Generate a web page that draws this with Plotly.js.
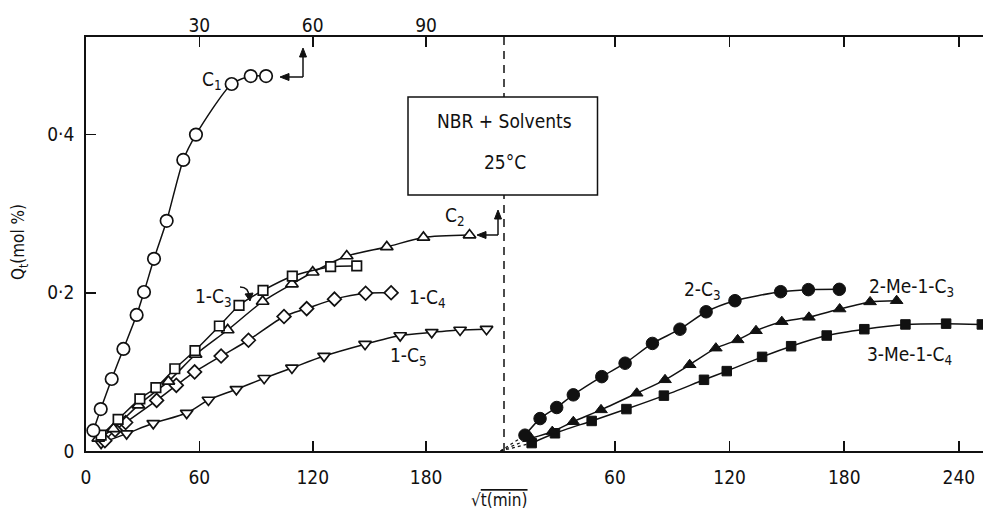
<!DOCTYPE html>
<html><head><meta charset="utf-8">
<script src="https://cdn.plot.ly/plotly-3.0.1.min.js"></script>
<style>html,body{margin:0;padding:0;background:#fff}</style>
</head><body>
<div id="chart" style="width:983px;height:516px"></div>
<script>
// ---- data (x = sqrt(t), y = Qt in mol %) ----
// C1 is read on the top axis (its scale is half of the bottom one)
const c1X = [1.95, 3.9, 6.8, 9.9, 13.4, 15.35, 18, 21.35, 25.75, 29.1, 38.55, 43.6, 47.65];
const c1Y = [0.026, 0.053, 0.091, 0.129, 0.172, 0.201, 0.243, 0.291, 0.368, 0.400, 0.464, 0.474, 0.474];

const c2X = [6.5, 14.5, 27.7, 43.6, 58, 75, 93.5, 109, 120, 138, 159.2, 178.6, 203];
const c2Y = [0.016, 0.028, 0.058, 0.088, 0.122, 0.153, 0.189, 0.211, 0.226, 0.2465, 0.258, 0.270, 0.273];

const c3X = [8, 17, 28.5, 37, 47, 57.7, 70.6, 81, 93.7, 109.2, 129.5, 143.3];
const c3Y = [0.02, 0.04, 0.066, 0.08, 0.104, 0.127, 0.158, 0.184, 0.203, 0.221, 0.233, 0.234];

const c4X = [10, 15.4, 21, 37.4, 47.8, 57.5, 71.5, 86, 104.8, 116.8, 131.5, 148, 161.5];
const c4Y = [0.013, 0.0265, 0.036, 0.064, 0.083, 0.1, 0.12, 0.14, 0.17, 0.18, 0.192, 0.1995, 0.2];

const c5X = [8, 21.5, 35.6, 53.3, 64.8, 79.6, 94.3, 109, 126, 147.7, 166.3, 183, 198, 212];
const c5Y = [0.01, 0.022, 0.035, 0.048, 0.0645, 0.078, 0.092, 0.105, 0.12, 0.135, 0.146, 0.15, 0.153, 0.154];

const iC3X = [12.9, 20.8, 29.5, 38.2, 53.1, 65.3, 79.6, 94, 107.7, 122.8, 146.7, 161.2, 177.4];
const iC3Y = [0.02, 0.041, 0.055, 0.071, 0.094, 0.111, 0.136, 0.154, 0.176, 0.19, 0.2014, 0.204, 0.2044];

const meC3X = [16, 27.2, 38.2, 52.7, 71.4, 86.2, 99.1, 112.8, 124.2, 133.8, 147.3, 161.5, 177.6, 193.5, 207.4];
const meC3Y = [0.016, 0.0245, 0.037, 0.052, 0.073, 0.09, 0.109, 0.13, 0.1405, 0.152, 0.1635, 0.169, 0.1795, 0.1885, 0.19];

const meC4X = [16.4, 28.6, 47.8, 66, 85.6, 106.6, 118.5, 137, 152.2, 170.8, 190.5, 212, 233.3, 252];
const meC4Y = [0.01, 0.0224, 0.038, 0.053, 0.07, 0.09, 0.101, 0.119, 0.1325, 0.146, 0.154, 0.160, 0.161, 0.160];

const leftTicks = [0, 60, 120, 180];
const rightTicks = [60, 120, 180, 240];
const topTicks = [30, 60, 90];
const yTicks = [0, 0.2, 0.4];
const yTickText = ['0', '0·2', '0·4'];

// ---- styling ----
const FONT = '"Liberation Sans Narrow", "DejaVu Sans Condensed", "Liberation Sans", sans-serif';
const INK = '#111';
const lineStyle = {color: INK, width: 1.5, shape: 'spline', smoothing: 0.7};

function openSeries(x, y, symbol, size, xa) {
  return {x, y, xaxis: xa, yaxis: 'y', type: 'scatter', mode: 'lines+markers',
    line: lineStyle, cliponaxis: true,
    marker: {symbol, size, color: 'white', line: {color: INK, width: 1.7}}};
}
function filledSeries(x, y, symbol, size) {
  return {x, y, xaxis: 'x2', yaxis: 'y', type: 'scatter', mode: 'lines+markers',
    line: lineStyle, cliponaxis: true,
    marker: {symbol, size, color: INK, line: {color: INK, width: 1}}};
}
function originLink(x, y) {
  return {x: [0, x[0]], y: [0, y[0]], xaxis: 'x2', yaxis: 'y', type: 'scatter', mode: 'lines',
    line: {color: INK, width: 1.2, dash: '3px,3px'}};
}

const traces = [
  originLink(iC3X, iC3Y), originLink(meC3X, meC3Y), originLink(meC4X, meC4Y),
  openSeries(c5X, c5Y, 'triangle-down', 11, 'x'),
  openSeries(c4X, c4Y, 'diamond', 10.5, 'x'),
  openSeries(c2X, c2Y, 'triangle-up', 11, 'x'),
  openSeries(c3X, c3Y, 'square', 9.5, 'x'),
  openSeries(c1X, c1Y, 'circle', 12.5, 'x3'),
  filledSeries(meC4X, meC4Y, 'square', 9.5),
  filledSeries(meC3X, meC3Y, 'triangle-up', 11),
  filledSeries(iC3X, iC3Y, 'circle', 12.5)
];

// plot-area helpers (paper coords from plot pixel positions)
const L = 86, T = 37, W = 897, H = 414;
const px = v => (v - L) / W;
const py = v => (T + H - v) / H;

const axisCommon = {
  showline: true, linecolor: INK, linewidth: 1.8, showgrid: false, zeroline: false,
  ticks: 'inside', ticklen: 10, tickwidth: 1.6, tickcolor: INK,
  tickfont: {family: FONT, size: 19, color: INK}
};

function label(text, x, y, extra) {
  return Object.assign({text, x: px(x), y: py(y), xref: 'paper', yref: 'paper',
    xanchor: 'left', yanchor: 'middle', showarrow: false,
    font: {family: FONT, size: 19, color: INK}}, extra || {});
}
// connector lines + filled arrow heads, drawn as shapes
function seg(x0, y0, x1, y1) {
  return {type: 'line', xref: 'paper', yref: 'paper', x0: px(x0), y0: py(y0), x1: px(x1), y1: py(y1),
    line: {color: INK, width: 1.5}};
}
function head(x, y, dir) {
  // dir: 'left' | 'up' | 'down'
  let pts;
  if (dir === 'left') pts = [[x, y], [x + 9, y - 3.5], [x + 9, y + 3.5]];
  else if (dir === 'up') pts = [[x, y], [x - 3.5, y + 9], [x + 3.5, y + 9]];
  else pts = [[x, y], [x - 5, y - 7], [x + 3, y - 8]];
  const d = 'M' + pts.map(p => px(p[0]) + ',' + py(p[1])).join(' L') + ' Z';
  return {type: 'path', xref: 'paper', yref: 'paper', path: d, fillcolor: INK, line: {color: INK, width: 1}};
}

const layout = {
  width: 983, height: 516,
  margin: {l: L, r: 0, t: T, b: 516 - T - H},
  paper_bgcolor: 'white', plot_bgcolor: 'white',
  showlegend: false,
  font: {family: FONT, size: 19, color: INK},
  xaxis: Object.assign({}, axisCommon, {domain: [0, 0.4619], range: [0, 219.3],
    tickvals: leftTicks, anchor: 'y', ticklabelstandoff: 8}),
  xaxis2: Object.assign({}, axisCommon, {domain: [0.4619, 1], range: [0, 252.6],
    tickvals: rightTicks, anchor: 'y', mirror: 'ticks', ticklabelstandoff: 8}),
  xaxis3: Object.assign({}, axisCommon, {overlaying: 'x', side: 'top', anchor: 'y',
    range: [0, 109.65], tickvals: topTicks, ticklabelstandoff: -4}),
  yaxis: Object.assign({}, axisCommon, {range: [0, 0.5234], tickvals: yTicks,
    ticktext: yTickText, ticklabelstandoff: 6}),
  shapes: [
    {type: 'line', xref: 'paper', yref: 'paper', x0: px(504), x1: px(504), y0: 0, y1: 1,
      line: {color: INK, width: 1.5, dash: '8px,6px'}},
    {type: 'rect', xref: 'paper', yref: 'paper', x0: px(408), x1: px(597.5), y0: py(195), y1: py(97),
      fillcolor: 'white', line: {color: INK, width: 1.5}},
    // C1 -> top axis
    seg(284, 77, 303, 77), seg(303, 77, 303, 55), head(280, 77, 'left'), head(303, 48, 'up'),
    // C2 -> top axis marker
    seg(481, 235, 498, 235), seg(498, 235, 498, 217), head(477, 235, 'left'), head(498, 210, 'up'),
    // 1-C3 pointer
    {type: 'path', xref: 'paper', yref: 'paper',
      path: 'M' + px(240) + ',' + py(287) + ' Q' + px(249) + ',' + py(287) + ' ' + px(249) + ',' + py(297),
      line: {color: INK, width: 1.4}},
    head(250, 301, 'down')
  ],
  annotations: [
    label('C<sub>1</sub>', 200, 80),
    label('C<sub>2</sub>', 443, 216),
    label('1-C<sub>3</sub>', 193, 297),
    label('1-C<sub>4</sub>', 407, 298),
    label('1-C<sub>5</sub>', 388, 356),
    label('2-C<sub>3</sub>', 682, 290),
    label('2-Me-1-C<sub>3</sub>', 867, 287),
    label('3-Me-1-C<sub>4</sub>', 865, 355),
    label('NBR + Solvents', 504, 121, {xanchor: 'center', font: {family: FONT, size: 19, color: INK}}),
    label('25°C', 505, 162, {xanchor: 'center', font: {family: FONT, size: 19, color: INK}}),
    label('Q<sub>t</sub>(mol %)', 19, 242, {xanchor: 'center', textangle: -90, font: {family: FONT, size: 17, color: INK}}),
    label("√<span style='text-decoration:overline'>t(min)</span>", 499, 500, {xanchor: 'center', font: {family: FONT, size: 17, color: INK}})
  ]
};

Plotly.newPlot('chart', traces, layout, {staticPlot: true, displayModeBar: false});
</script>
</body></html>
